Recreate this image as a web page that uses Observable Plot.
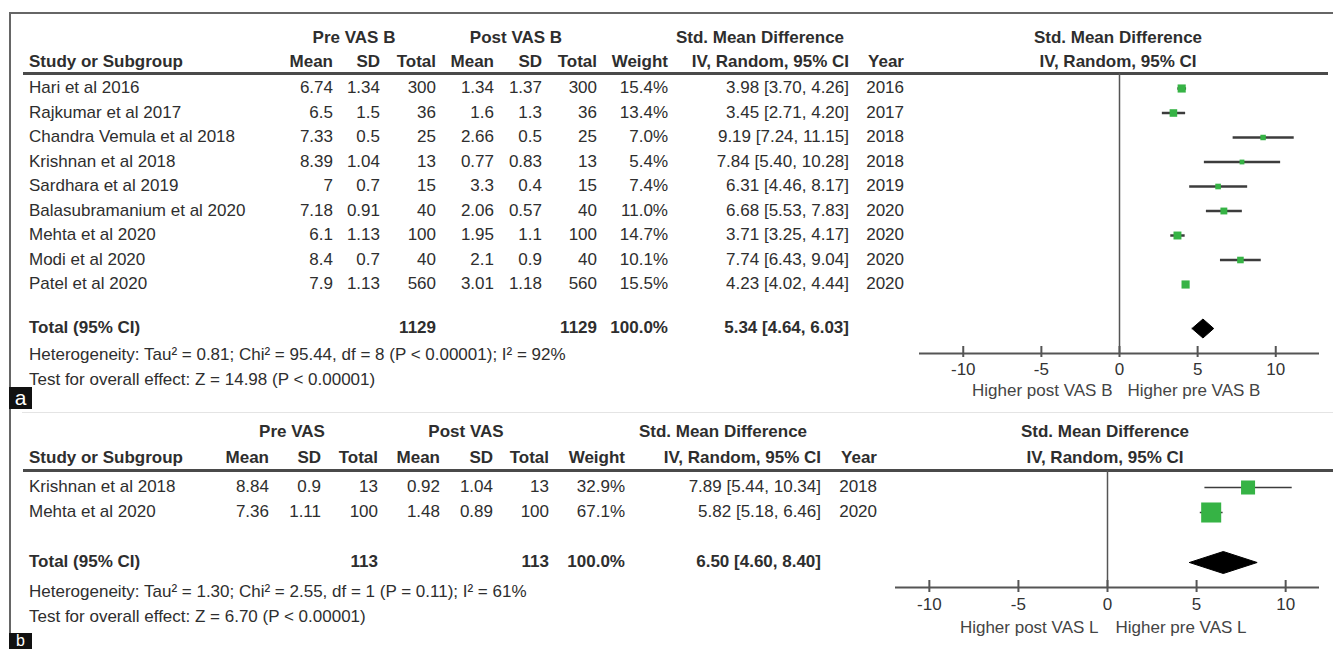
<!DOCTYPE html>
<html>
<head>
<meta charset="utf-8">
<script src="https://cdn.jsdelivr.net/npm/d3@7"></script>
<script src="https://cdn.jsdelivr.net/npm/@observablehq/plot@0.6"></script>
<style>
  html, body { margin: 0; padding: 0; background: #fff; }
  #root { position: relative; width: 1333px; height: 649px; overflow: hidden;
          font-family: "Liberation Sans", Arial, sans-serif; font-size: 17px; color: #2e2e2e; }
  .t { position: absolute; white-space: nowrap; line-height: 20px; height: 20px; }
  .b { font-weight: bold; }
  .ln { position: absolute; }
  .lab { position: absolute; background: #111; color: #fff; text-align: center; overflow: hidden; }
</style>
</head>
<body>
<div id="root"></div>
<script>
// ---------------- Panel a data ----------------
const studiesA = ["Hari et al 2016", "Rajkumar et al 2017", "Chandra Vemula et al 2018", "Krishnan et al 2018",
  "Sardhara et al 2019", "Balasubramanium  et al 2020", "Mehta et al 2020", "Modi et al 2020", "Patel et al 2020"];
const preMeanA = [6.74, 6.5, 7.33, 8.39, 7, 7.18, 6.1, 8.4, 7.9];
const preSDA = [1.34, 1.5, 0.5, 1.04, 0.7, 0.91, 1.13, 0.7, 1.13];
const preTotalA = [300, 36, 25, 13, 15, 40, 100, 40, 560];
const postMeanA = [1.34, 1.6, 2.66, 0.77, 3.3, 2.06, 1.95, 2.1, 3.01];
const postSDA = [1.37, 1.3, 0.5, 0.83, 0.4, 0.57, 1.1, 0.9, 1.18];
const postTotalA = [300, 36, 25, 13, 15, 40, 100, 40, 560];
const weightA = [15.4, 13.4, 7.0, 5.4, 7.4, 11.0, 14.7, 10.1, 15.5];
const smdA = [3.98, 3.45, 9.19, 7.84, 6.31, 6.68, 3.71, 7.74, 4.23];
const lowA = [3.70, 2.71, 7.24, 5.40, 4.46, 5.53, 3.25, 6.43, 4.02];
const highA = [4.26, 4.20, 11.15, 10.28, 8.17, 7.83, 4.17, 9.04, 4.44];
const yearA = [2016, 2017, 2018, 2018, 2019, 2020, 2020, 2020, 2020];
const totalPreA = 1129, totalPostA = 1129;
const pooledA = [5.34, 4.64, 6.03]; // estimate, low, high
const hetA = "Heterogeneity: Tau\u00B2 = 0.81; Chi\u00B2 = 95.44, df = 8 (P < 0.00001); I\u00B2 = 92%";
const testA = "Test for overall effect: Z = 14.98 (P < 0.00001)";
const groupA = ["Pre VAS B", "Post VAS B"];
const favoursA = ["Higher post VAS B", "Higher pre VAS B"];

// ---------------- Panel b data ----------------
const studiesB = ["Krishnan et al 2018", "Mehta et al 2020"];
const preMeanB = [8.84, 7.36];
const preSDB = [0.9, 1.11];
const preTotalB = [13, 100];
const postMeanB = [0.92, 1.48];
const postSDB = [1.04, 0.89];
const postTotalB = [13, 100];
const weightB = [32.9, 67.1];
const smdB = [7.89, 5.82];
const lowB = [5.44, 5.18];
const highB = [10.34, 6.46];
const yearB = [2018, 2020];
const totalPreB = 113, totalPostB = 113;
const pooledB = [6.50, 4.60, 8.40];
const hetB = "Heterogeneity: Tau\u00B2 = 1.30; Chi\u00B2 = 2.55, df = 1 (P = 0.11); I\u00B2 = 61%";
const testB = "Test for overall effect: Z = 6.70 (P < 0.00001)";
const groupB = ["Pre VAS", "Post VAS"];
const favoursB = ["Higher post VAS L", "Higher pre VAS L"];

const axisTicks = [-10, -5, 0, 5, 10];
const colHeaders = ["Mean", "SD", "Total", "Mean", "SD", "Total", "Weight", "IV, Random, 95% CI", "Year"];

// ---------------- helpers ----------------
const root = document.getElementById("root");
const W = 1333;
function txt(s, x, y, align, bold) {
  const e = document.createElement("div");
  e.className = "t" + (bold ? " b" : "");
  e.textContent = s;
  e.style.top = (y - 10) + "px";
  if (align === "right") { e.style.right = (W - x) + "px"; }
  else if (align === "center") { e.style.left = x + "px"; e.style.transform = "translateX(-50%)"; }
  else { e.style.left = x + "px"; }
  root.appendChild(e);
}
function line(x, y, w, h, color) {
  const e = document.createElement("div");
  e.className = "ln";
  Object.assign(e.style, {left: x + "px", top: y + "px", width: w + "px", height: h + "px", background: color});
  root.appendChild(e);
}
function label(s, x, y, w, h, lh, fs) {
  const e = document.createElement("div");
  e.className = "lab";
  e.textContent = s;
  Object.assign(e.style, {left: x + "px", top: y + "px", width: w + "px", height: h + "px", lineHeight: lh + "px", fontSize: fs + "px"});
  root.appendChild(e);
}
const ci = (m, l, h) => `${m.toFixed(2)} [${l.toFixed(2)}, ${h.toFixed(2)}]`;

function table(cfg) {
  const c = cfg.cols; // right edges
  txt(cfg.group[0], cfg.groupX[0], cfg.gy, "center", true);
  txt(cfg.group[1], cfg.groupX[1], cfg.gy, "center", true);
  txt("Std. Mean Difference", cfg.smdX, cfg.gy, "center", true);
  txt("Std. Mean Difference", cfg.forestX, cfg.gy, "center", true);
  txt("Study or Subgroup", 29, cfg.hy, "left", true);
  colHeaders.forEach((h, j) => txt(h, c[j], cfg.hy, "right", true));
  txt("IV, Random, 95% CI", cfg.forestX, cfg.hy, "center", true);
  cfg.studies.forEach((s, i) => {
    const y = cfg.rowY(i);
    txt(s, 29, y, "left");
    const vals = [cfg.preMean[i], cfg.preSD[i], cfg.preTotal[i], cfg.postMean[i], cfg.postSD[i], cfg.postTotal[i],
      cfg.weight[i].toFixed(1) + "%", ci(cfg.smd[i], cfg.low[i], cfg.high[i]), cfg.year[i]];
    vals.forEach((v, j) => txt(String(v), c[j], y, "right"));
  });
  txt("Total (95% CI)", 29, cfg.ty, "left", true);
  txt(String(cfg.totalPre), c[2], cfg.ty, "right", true);
  txt(String(cfg.totalPost), c[5], cfg.ty, "right", true);
  txt("100.0%", c[6], cfg.ty, "right", true);
  txt(ci(...cfg.pooled), c[7], cfg.ty, "right", true);
  txt(cfg.het, 29, cfg.hetY, "left");
  txt(cfg.test, 29, cfg.testY, "left");
}

function forest(cfg) {
  const rows = cfg.smd.map((m, i) => ({i, m, lo: cfg.low[i], hi: cfg.high[i], w: cfg.weight[i]}));
  const [pe, pl, ph] = cfg.pooled;
  const yc = cfg.totalRow, hh = cfg.diamondH;
  const diamond = [{x: pl, y: yc}, {x: pe, y: yc - hh}, {x: ph, y: yc}, {x: pe, y: yc + hh}, {x: pl, y: yc}];
  const plot = Plot.plot({
    width: cfg.width,
    height: cfg.frameH + cfg.marginBottom,
    marginTop: 0,
    marginBottom: cfg.marginBottom,
    marginLeft: cfg.marginLeft,
    marginRight: cfg.marginRight,
    x: {domain: cfg.xDomain},
    y: {domain: [cfg.headerRow, cfg.axisRow], reverse: true, axis: null},
    r: {domain: [0, d3.max(cfg.weight)], range: [0, cfg.maxR]},
    style: {fontFamily: '"Liberation Sans", Arial, sans-serif', fontSize: "17px", color: "#333", background: "transparent", overflow: "visible"},
    marks: [
      Plot.ruleX([0], {y1: cfg.headerRow, y2: cfg.axisRow, stroke: "#555", strokeWidth: 1.5}),
      Plot.ruleY([cfg.axisRow], {stroke: "#555", strokeWidth: 2}),
      Plot.ruleX(axisTicks, {x: d => d, y1: cfg.axisRow, y2: cfg.axisRow - cfg.tickUp, stroke: "#555", strokeWidth: 2}),
      Plot.axisX({ticks: axisTicks, tickFormat: d => String(d), tickSize: cfg.tickDown, tickPadding: 5,
        strokeWidth: 2, stroke: "#555", fontSize: 17, fill: "#333", label: null}),
      Plot.link(rows, {x1: "lo", x2: "hi", y1: "i", y2: "i", stroke: "#3c3c3c", strokeWidth: cfg.ciWidth}),
      Plot.dot(rows, {x: "m", y: "i", r: "w", symbol: "square", fill: "#36b345", stroke: "none"}),
      Plot.line(diamond, {x: "x", y: "y", fill: "#000", stroke: "#000", strokeWidth: 1, curve: "linear"}),
      Plot.text([cfg.favours[0]], {x: 0, y: cfg.axisRow, dy: cfg.favDy, dx: cfg.favDx[0], textAnchor: "end", fontSize: 17, fill: "#444"}),
      Plot.text([cfg.favours[1]], {x: 0, y: cfg.axisRow, dy: cfg.favDy, dx: cfg.favDx[1], textAnchor: "start", fontSize: 17, fill: "#444"})
    ]
  });
  plot.style.position = "absolute";
  plot.style.left = cfg.left + "px";
  plot.style.top = cfg.top + "px";
  root.appendChild(plot);
}

// ---------------- frame lines ----------------
line(9, 12, W - 9, 2, "#666");        // panel a top border
line(9, 12, 2, 376, "#666");          // panel a left border
line(9, 409, 2, 224, "#666");         // panel b left border
line(22, 412, W - 22, 1, "#e4e4e4");  // separator
line(23, 72, 1305, 3, "#4a4a4a");     // header rule a
line(23, 469, W - 23, 3, "#4a4a4a");  // header rule b
label("a", 9, 387, 23, 22, 21, 21);
label("b", 9, 633, 23, 16, 15, 16);

// ---------------- panel a ----------------
const rowHA = 24.5;
table({
  group: groupA, groupX: [354, 516], smdX: 760, forestX: 1118, gy: 38, hy: 62,
  cols: [333, 380, 436, 494, 542, 597, 668, 849, 904],
  studies: studiesA, preMean: preMeanA, preSD: preSDA, preTotal: preTotalA,
  postMean: postMeanA, postSD: postSDA, postTotal: postTotalA, weight: weightA,
  smd: smdA, low: lowA, high: highA, year: yearA,
  rowY: i => 88 + i * rowHA, ty: 328, totalPre: totalPreA, totalPost: totalPostA, pooled: pooledA,
  het: hetA, hetY: 355, test: testA, testY: 380
});
forest({
  left: 900, top: 73, width: 433, marginLeft: 19, marginRight: 14, marginBottom: 55,
  frameH: 280, xDomain: [-12.8, 12.8],
  headerRow: -15 / rowHA, axisRow: (353 - 88) / rowHA, totalRow: (328 - 88) / rowHA,
  tickUp: 7 / rowHA, tickDown: 4, diamondH: 9.5 / rowHA, maxR: 4.6, ciWidth: 2.5,
  smd: smdA, low: lowA, high: highA, weight: weightA, pooled: pooledA,
  favours: favoursA, favDy: 37, favDx: [-7, 8]
});

// ---------------- panel b ----------------
const rowHB = 25;
table({
  group: groupB, groupX: [292, 466], smdX: 723, forestX: 1105, gy: 432, hy: 458,
  cols: [269, 321, 378, 440, 493, 549, 625, 821, 877],
  studies: studiesB, preMean: preMeanB, preSD: preSDB, preTotal: preTotalB,
  postMean: postMeanB, postSD: postSDB, postTotal: postTotalB, weight: weightB,
  smd: smdB, low: lowB, high: highB, year: yearB,
  rowY: i => 487 + i * rowHB, ty: 562, totalPre: totalPreB, totalPost: totalPostB, pooled: pooledB,
  het: hetB, hetY: 592, test: testB, testY: 617
});
forest({
  left: 880, top: 470, width: 453, marginLeft: 15, marginRight: 14, marginBottom: 55,
  frameH: 117, xDomain: [-11.9, 11.9],
  headerRow: -17 / rowHB, axisRow: (587 - 487) / rowHB, totalRow: (562 - 487) / rowHB,
  tickUp: 7 / rowHB, tickDown: 5, diamondH: 11 / rowHB, maxR: 11.3, ciWidth: 1.5,
  smd: smdB, low: lowB, high: highB, weight: weightB, pooled: pooledB,
  favours: favoursB, favDy: 40, favDx: [-9, 8]
});
</script>
</body>
</html>
